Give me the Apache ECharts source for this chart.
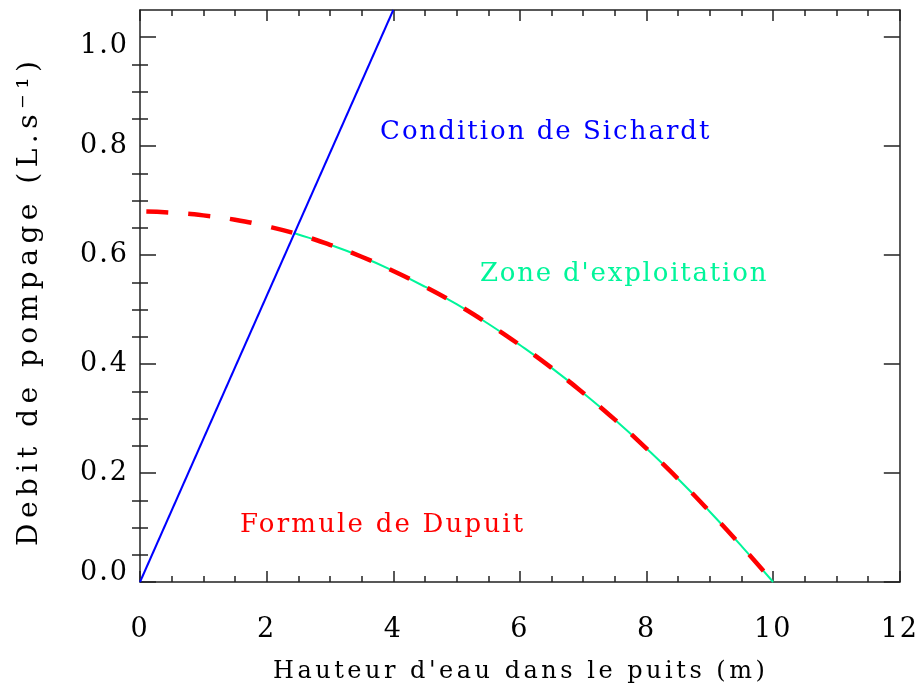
<!DOCTYPE html>
<html><head><meta charset="utf-8">
<script src="https://cdn.jsdelivr.net/npm/echarts@6/dist/echarts.min.js"></script>
<style>html,body{margin:0;padding:0;background:#fff}#c{width:920px;height:688px}</style>
</head><body><div id="c"></div>
<script>
// Data
const dupuitH = [0.1, 0.5, 1.0, 1.5, 2.0, 2.5, 3.0, 3.5, 4.0, 4.5, 5.0, 5.5, 6.0, 6.5, 7.0, 7.5, 8.0, 8.5, 9.0, 9.5, 10.0];
const dupuitQ = [0.680, 0.678, 0.673, 0.665, 0.653, 0.638, 0.619, 0.597, 0.571, 0.542, 0.510, 0.474, 0.435, 0.393, 0.347, 0.298, 0.245, 0.189, 0.129, 0.066, 0.000];
const zoneH = [2.43, 2.5, 3.0, 3.5, 4.0, 4.5, 5.0, 5.5, 6.0, 6.5, 7.0, 7.5, 8.0, 8.5, 9.0, 9.5, 10.0];
const zoneQ = [0.640, 0.638, 0.619, 0.597, 0.571, 0.542, 0.510, 0.474, 0.435, 0.393, 0.347, 0.298, 0.245, 0.189, 0.129, 0.066, 0.000];
const sichardtH = [0, 4.0];
const sichardtQ = [0, 1.05];
const yMajorTicks = [0, 0.2, 0.4, 0.6, 0.8, 1.0];
const yMinorTicks = [0.05, 0.1, 0.15, 0.25, 0.3, 0.35, 0.45, 0.5, 0.55, 0.65, 0.7, 0.75, 0.85, 0.9, 0.95];
const xAxisTitle = "Hauteur d'eau dans le puits (m)";
const yAxisTitle = "Debit de pompage (L.s\u207B\u00B9)";
const labelSichardt = "Condition de Sichardt";
const labelZone = "Zone d'exploitation";
const labelDupuit = "Formule de Dupuit";

const FONT = "DejaVu Serif";
const AX = '#222';
const zip = (a, b) => a.map((v, i) => [v, b[i]]);

// wider letter spacing, like the original plotting font (canvas letterSpacing)
const SPACING = new Map([[labelSichardt, 2], [labelZone, 1.8], [labelDupuit, 2.2], [xAxisTitle, 3.5], [yAxisTitle, 5.5]]);
(function () {
  const proto = CanvasRenderingContext2D.prototype;
  const orig = proto.fillText;
  proto.fillText = function (t, x, y, m) {
    const s = SPACING.get(t);
    const call = () => (m === undefined ? orig.call(this, t, x, y) : orig.call(this, t, x, y, m));
    if (s !== undefined && 'letterSpacing' in this) {
      const prev = this.letterSpacing;
      this.letterSpacing = s + 'px';
      call();
      this.letterSpacing = prev;
      return;
    }
    call();
  };
})();

const xBase = {
  type: 'value', min: 0, max: 12, interval: 2,
  axisLine: { show: true, onZero: false, lineStyle: { color: AX, width: 1.5 } },
  axisTick: { show: true, inside: true, length: 11, lineStyle: { color: AX, width: 1.5 } },
  minorTick: { show: true, splitNumber: 4, length: 6, lineStyle: { color: AX, width: 1.5 } },
  splitLine: { show: false }, minorSplitLine: { show: false }
};
const yMajor = (pos, labels) => ({
  type: 'value', min: 0, max: 1.05, position: pos,
  axisLine: { show: true, onZero: false, lineStyle: { color: AX, width: 1.5 } },
  axisTick: { show: true, inside: true, length: 16, customValues: yMajorTicks, lineStyle: { color: AX, width: 1.5 } },
  axisLabel: labels ? {
    show: true, customValues: yMajorTicks, margin: 11, fontFamily: FONT, fontSize: 27, color: '#000',
    formatter: v => {
      const s = v.toFixed(1);
      if (Math.abs(v) < 1e-9) return '{lo|' + s + '}';
      if (Math.abs(v - 1) < 1e-9) return '{hi|' + s + '}';
      return s;
    },
    rich: {
      lo: { fontFamily: FONT, fontSize: 27, color: '#000', padding: [0, 0, 18, 0] },
      hi: { fontFamily: FONT, fontSize: 27, color: '#000', padding: [18, 0, 0, 0] }
    }
  } : { show: false },
  splitLine: { show: false }
});
const yMinor = (pos) => ({
  type: 'value', min: 0, max: 1.05, position: pos,
  axisLine: { show: false },
  axisTick: { show: true, inside: true, length: 8, customValues: yMinorTicks, lineStyle: { color: AX, width: 1.5 } },
  axisLabel: { show: false },
  splitLine: { show: false }
});

const chart = echarts.init(document.getElementById('c'), null, { renderer: 'canvas' });
chart.setOption({
  animation: false,
  backgroundColor: '#fff',
  grid: { left: 140, right: 20, top: 10, bottom: 106, containLabel: false },
  xAxis: [
    Object.assign({}, xBase, { position: 'bottom',
      axisLabel: { show: true, margin: 34, fontFamily: FONT, fontSize: 27, color: '#000' } }),
    Object.assign({}, xBase, { position: 'top', axisLabel: { show: false } })
  ],
  yAxis: [yMajor('left', true), yMajor('right', false), yMinor('left'), yMinor('right')],
  series: [
    { name: labelZone, type: 'line', data: zip(zoneH, zoneQ), showSymbol: false, smooth: true,
      lineStyle: { color: '#00f59a', width: 2 }, z: 2 },
    { name: labelDupuit, type: 'line', data: zip(dupuitH, dupuitQ), showSymbol: false, smooth: true,
      lineStyle: { color: '#ff0000', width: 4.5, type: [22, 20], cap: 'butt' }, z: 3 },
    { name: labelSichardt, type: 'line', data: zip(sichardtH, sichardtQ), showSymbol: false,
      lineStyle: { color: '#0000ff', width: 2 }, z: 4, clip: true }
  ],
  graphic: [
    { type: 'text', left: 380, top: 119, style: { text: labelSichardt, fill: '#0000ff', fontFamily: FONT, fontSize: 26 } },
    { type: 'text', left: 480, top: 261, style: { text: labelZone, fill: '#00f59a', fontFamily: FONT, fontSize: 26 } },
    { type: 'text', left: 240, top: 512, style: { text: labelDupuit, fill: '#ff0000', fontFamily: FONT, fontSize: 26 } },
    { type: 'text', left: 273, top: 660, style: { text: xAxisTitle, fill: '#000', fontFamily: FONT, fontSize: 24 } },
    { type: 'text', x: 16, y: 546, rotation: Math.PI / 2,
      style: { text: yAxisTitle, fill: '#000', fontFamily: FONT, fontSize: 28, verticalAlign: 'top', align: 'left' } }
  ]
});
</script></body></html>
